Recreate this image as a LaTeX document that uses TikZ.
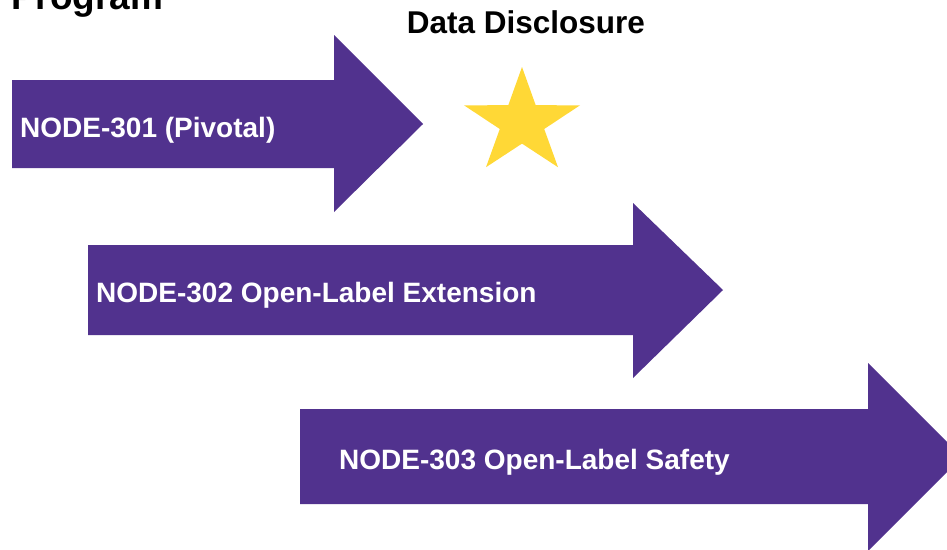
\documentclass[tikz,border=0pt]{standalone}
\usepackage{fontspec}
\setmainfont{Liberation Sans}
\definecolor{phasepurple}{RGB}{81,50,142}
\definecolor{staryellow}{RGB}{255,216,54}
\tikzset{
  phase/.style={fill=phasepurple, draw=none},
  phaselabel/.style={anchor=base west, inner sep=0pt, text=white,
    font=\bfseries\fontsize{28}{34}\selectfont},
  heading/.style={inner sep=0pt, text=black}
}
\begin{document}
\begin{tikzpicture}[x=1pt, y=-1pt]
  \useasboundingbox (0,0) rectangle (947,549);
  \clip (0,0) rectangle (947,549);
  \fill[white] (0,0) rectangle (947,549);

  % title, running off the top edge
  \node[heading, anchor=base west, font=\bfseries\fontsize{37}{44}\selectfont]
    (title) at (11,9) {Program};

  % milestone heading and star
  \node[heading, anchor=base, font=\bfseries\fontsize{31.5}{38}\selectfont]
    (milestone) at (526,33) {Data Disclosure};
  \fill[staryellow] (522,67) -- (535.7,105.2) -- (580,105.3) -- (544.2,129)
    -- (558,167.2) -- (522,143.6) -- (486,167.2) -- (499.8,129)
    -- (464,105.3) -- (508.3,105.2) -- cycle;

  % study phase arrows
  \fill[phase] (12,80) -- (334,80) -- (334,35) -- (423,124) -- (334,212)
    -- (334,168) -- (12,168) -- cycle;
  \fill[phase] (88,245) -- (633,245) -- (633,203) -- (723,290) -- (633,378)
    -- (633,335) -- (88,335) -- cycle;
  \fill[phase] (300,409) -- (868,409) -- (868,363) -- (962,457) -- (868,551)
    -- (868,504) -- (300,504) -- cycle;

  \node[phaselabel] (n301) at (20,137) {NODE-301 (Pivotal)};
  \node[phaselabel] (n302) at (96,302) {NODE-302 Open-Label Extension};
  \node[phaselabel] (n303) at (339,469) {NODE-303 Open-Label Safety};
\end{tikzpicture}
\end{document}
